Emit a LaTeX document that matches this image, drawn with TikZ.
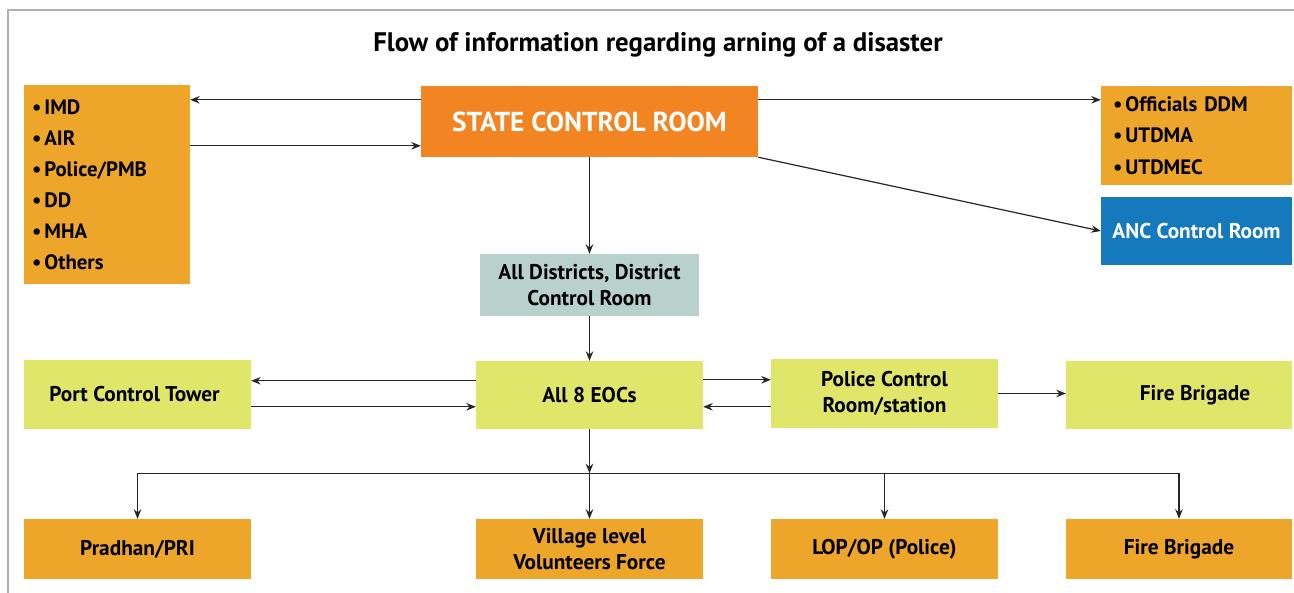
\documentclass[tikz,border=0pt]{standalone}
\usepackage{fontspec}
\setmainfont{PT Sans}
\usetikzlibrary{calc,arrows.meta}
\definecolor{gold}{RGB}{237,165,42}
\definecolor{scr}{RGB}{242,132,34}
\definecolor{anc}{RGB}{20,121,189}
\definecolor{dist}{RGB}{185,209,203}
\definecolor{lime}{RGB}{224,230,106}
\definecolor{frame}{RGB}{176,176,176}
\tikzset{
  box/.style={rectangle, inner sep=0pt, align=center, font=\fontsize{21.3}{26.5}\selectfont\bfseries, text=black},
  arr/.style={-{Stealth[length=9.5pt,width=7.5pt]}, line width=1.2pt, black!85},
  ln/.style={line width=1.2pt, black!85}
}
\begin{document}
\begin{tikzpicture}[x=1pt,y=-1pt]
\useasboundingbox (0,0) rectangle (1294,593);
\fill[white] (0,0) rectangle (1294,593);
\draw[frame, line width=1.6pt] (8,593) -- (8,10) -- (1294,10);

\node[font=\fontsize{26.8}{30}\selectfont\bfseries] (title) at (658,45) {Flow of information regarding arning of a disaster};

\node[box, fill=gold, minimum width=166pt, minimum height=199pt, text width=150pt, align=left,
      font=\fontsize{20.8}{31}\selectfont\bfseries] (L) at (107,185)
  {•\kern3pt IMD\\•\kern3pt AIR\\•\kern3pt Police/PMB\\•\kern3pt DD\\•\kern3pt MHA\\•\kern3pt Others};
\node[box, fill=scr, minimum width=337pt, minimum height=71pt, text=white,
      font=\fontsize{27.4}{30}\selectfont\bfseries] (S) at (589.5,121.5) {STATE CONTROL ROOM};
\node[box, fill=gold, minimum width=191pt, minimum height=99pt, text width=167pt, align=left,
      font=\fontsize{20.8}{31.5}\selectfont\bfseries] (R) at (1196.5,135.5)
  {•\kern3pt Officials DDM\\•\kern3pt UTDMA\\•\kern3pt UTDMEC};
\node[box, fill=anc, minimum width=191pt, minimum height=68pt, text=white] (A) at (1196.5,231) {ANC Control Room};
\node[box, fill=dist, minimum width=219pt, minimum height=62pt] (D) at (589.5,285) {All Districts, District\\Control Room};

\node[box, fill=lime, minimum width=227pt, minimum height=69pt] (P) at (137.5,394.5) {Port Control Tower\hspace*{6pt}};
\node[box, fill=lime, minimum width=227pt, minimum height=68pt] (E) at (589.5,395) {All 8 EOCs};
\node[box, fill=lime, minimum width=227pt, minimum height=69pt] (Q) at (884.5,393.5) {Police Control\\Room/station};
\node[box, fill=lime, minimum width=226pt, minimum height=68pt] (F) at (1179,395) {\hspace*{32pt}Fire Brigade};

\node[box, fill=gold, minimum width=227pt, minimum height=60pt] (B1) at (137.5,549) {Pradhan/PRI};
\node[box, fill=gold, minimum width=227pt, minimum height=60pt] (B2) at (589.5,549) {Village level\\Volunteers Force};
\node[box, fill=gold, minimum width=227pt, minimum height=60pt] (B3) at (884.5,549) {LOP/OP (Police)};
\node[box, fill=gold, minimum width=226pt, minimum height=60pt] (B4) at (1179,549) {Fire Brigade};

% top row
\coordinate (s1) at ($(S.north west)+(0,14)$);
\coordinate (s2) at ($(S.north west)+(0,60)$);
\coordinate (s3) at ($(S.north east)+(0,14)$);
\draw[arr] (s1) -- (L.east |- s1);
\draw[arr] (L.east |- s2) -- (s2);
\draw[arr] (s3) -- (R.west |- s3);
\draw[arr] (S.south east) -- (A.west);
\draw[arr] (S.south) -- (D.north);
\draw[arr] (D.south) -- (E.north);

% middle row
\coordinate (e1) at ($(E.north west)+(0,20)$);
\coordinate (e2) at ($(E.north west)+(0,46)$);
\draw[arr] (e1) -- (P.east |- e1);
\draw[arr] (P.east |- e2) -- (e2);
\coordinate (e3) at ($(E.north east)+(0,19)$);
\coordinate (e4) at ($(E.north east)+(0,46)$);
\draw[arr] (e3) -- (Q.west |- e3);
\draw[arr] (Q.west |- e4) -- (e4);
\draw[arr] (Q.east) -- (F.west |- Q.east);

% bottom distribution
\coordinate (bus) at ($(E.south)+(0,44)$);
\draw[arr] (E.south) -- (bus);
\draw[ln] (B1.north |- bus) -- (B4.north |- bus);
\draw[arr] (B1.north |- bus) -- (B1.north);
\draw[arr] (bus) -- (B2.north);
\draw[arr] (B3.north |- bus) -- (B3.north);
\draw[arr] (B4.north |- bus) -- (B4.north);
\end{tikzpicture}
\end{document}
